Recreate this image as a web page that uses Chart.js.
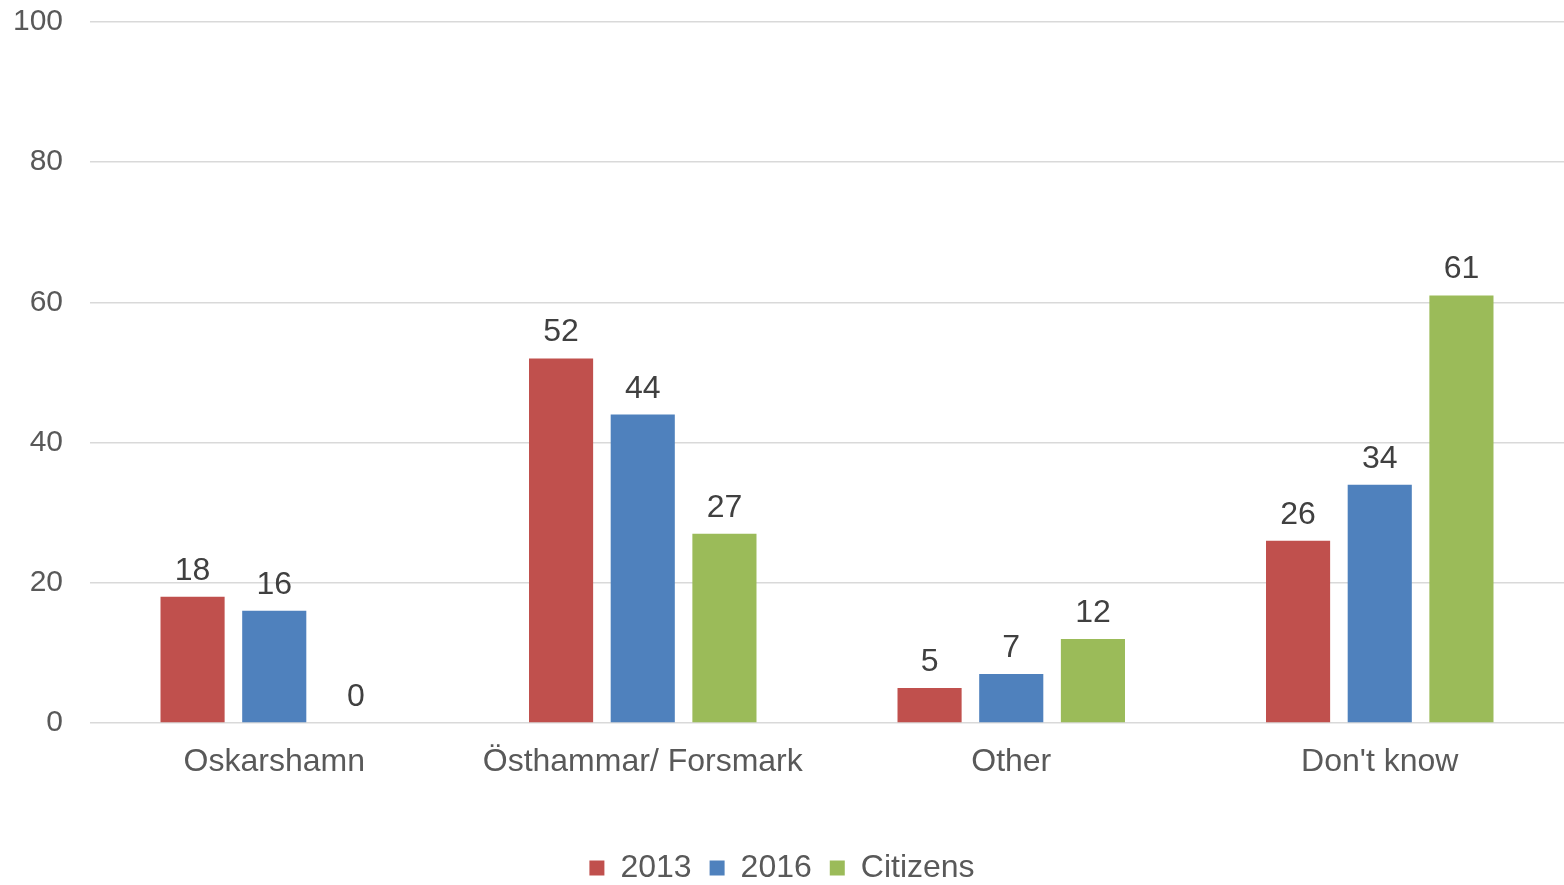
<!DOCTYPE html>
<html>
<head>
<meta charset="utf-8">
<script src="https://cdn.jsdelivr.net/npm/chart.js@4"></script>
<style>
    html, body { margin: 0; padding: 0; background: #ffffff; }
    #wrap { width: 1564px; height: 885px; }
</style>
</head>
<body>
<div id="wrap"><canvas id="placeChart"></canvas></div>
<script>
// Places named, share in percent
const categories = ['Oskarshamn', 'Östhammar/ Forsmark', 'Other', "Don't know"];
const values2013 = [18, 52, 5, 26];
const values2016 = [16, 44, 7, 34];
const valuesCitizens = [0, 27, 12, 61];
const yTicks = [0, 20, 40, 60, 80, 100];

const FONT = '"Liberation Sans", Arial, sans-serif';

// Draw the value above each bar
const valueLabels = {
    id: 'valueLabels',
    afterDatasetsDraw(chart) {
        const ctx = chart.ctx;
        ctx.save();
        ctx.font = '32px ' + FONT;
        ctx.fillStyle = '#404040';
        ctx.textAlign = 'center';
        ctx.textBaseline = 'alphabetic';
        chart.data.datasets.forEach((ds, i) => {
            chart.getDatasetMeta(i).data.forEach((bar, j) => {
                ctx.fillText(String(ds.data[j]), bar.x, bar.y - 17);
            });
        });
        ctx.restore();
    }
};

const ctx = document.getElementById('placeChart');

new Chart(ctx, {
    type: 'bar',
    data: {
        labels: categories,
        datasets: [
            { label: '2013', data: values2013, backgroundColor: '#C0504D' },
            { label: '2016', data: values2016, backgroundColor: '#4F81BD' },
            { label: 'Citizens', data: valuesCitizens, backgroundColor: '#9BBB59' }
        ]
    },
    options: {
        responsive: true,
        maintainAspectRatio: false,
        animation: false,
        categoryPercentage: 0.665,
        barPercentage: 0.785,
        layout: {
            padding: { top: 22, right: 0, left: 0, bottom: -9 }
        },
        plugins: {
            legend: {
                position: 'bottom',
                labels: {
                    color: '#595959',
                    font: { family: FONT, size: 32 },
                    boxWidth: 15,
                    boxHeight: 15,
                    padding: 18
                }
            },
            tooltip: { enabled: false }
        },
        scales: {
            x: {
                grid: { display: false },
                border: { display: false },
                ticks: {
                    color: '#595959',
                    font: { family: FONT, size: 32 },
                    padding: 12
                },
                afterFit(scale) {
                    scale.height = 111;
                }
            },
            y: {
                min: 0,
                max: 100,
                afterBuildTicks(scale) {
                    scale.ticks = yTicks.map(v => ({ value: v }));
                },
                grid: {
                    color: '#D9D9D9',
                    lineWidth: 1.5,
                    drawTicks: true,
                    tickLength: 27,
                    tickColor: 'rgba(0,0,0,0)'
                },
                border: { display: false },
                ticks: {
                    color: '#595959',
                    font: { family: FONT, size: 30 },
                    padding: 0
                },
                afterFit(scale) {
                    scale.width = 90;
                }
            }
        }
    },
    plugins: [valueLabels]
});
</script>
</body>
</html>
